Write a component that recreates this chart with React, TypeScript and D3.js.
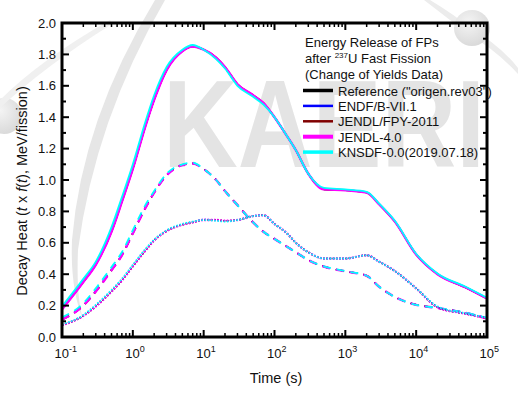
import React from 'react';
import * as d3 from 'd3';

// time grid (s) shared by every curve
const T = [0.1, 0.2, 0.3, 0.5, 0.7, 1, 1.5, 2, 3, 5, 7, 10, 15, 20, 30, 50, 70, 100, 150, 200, 300, 500, 1000, 2000, 3000, 5000, 10000, 20000, 50000, 100000];

// solid curves
const totalRef = [0.176, 0.35, 0.461, 0.671, 0.861, 1.071, 1.341, 1.511, 1.70, 1.82, 1.85, 1.83, 1.78, 1.72, 1.61, 1.54, 1.49, 1.40, 1.28, 1.19, 1.04, 0.94, 0.935, 0.92, 0.845, 0.735, 0.525, 0.40, 0.315, 0.245];
const totalEndf = [0.18, 0.355, 0.465, 0.675, 0.865, 1.075, 1.345, 1.515, 1.705, 1.825, 1.855, 1.83, 1.775, 1.715, 1.605, 1.535, 1.485, 1.40, 1.28, 1.19, 1.04, 0.945, 0.937, 0.922, 0.848, 0.738, 0.528, 0.402, 0.318, 0.247];
const totalJfpy = [0.177, 0.351, 0.461, 0.671, 0.861, 1.071, 1.341, 1.511, 1.70, 1.82, 1.85, 1.83, 1.78, 1.72, 1.61, 1.54, 1.49, 1.40, 1.28, 1.19, 1.04, 0.94, 0.935, 0.92, 0.845, 0.735, 0.525, 0.40, 0.315, 0.245];
const totalJendl4 = [0.175, 0.35, 0.46, 0.67, 0.86, 1.07, 1.34, 1.51, 1.70, 1.82, 1.85, 1.83, 1.78, 1.72, 1.61, 1.54, 1.49, 1.40, 1.28, 1.19, 1.04, 0.94, 0.935, 0.92, 0.845, 0.735, 0.525, 0.40, 0.315, 0.245];
const totalKnsdf = [0.195, 0.37, 0.48, 0.70, 0.89, 1.10, 1.37, 1.54, 1.72, 1.83, 1.86, 1.83, 1.77, 1.71, 1.60, 1.53, 1.48, 1.40, 1.28, 1.19, 1.04, 0.95, 0.94, 0.925, 0.85, 0.74, 0.53, 0.405, 0.32, 0.25];

// dashed curves
const dashRef = [0.11, 0.20, 0.29, 0.425, 0.52, 0.66, 0.82, 0.92, 1.03, 1.095, 1.105, 1.07, 1.00, 0.93, 0.84, 0.73, 0.67, 0.625, 0.575, 0.54, 0.49, 0.448, 0.418, 0.39, 0.32, 0.255, 0.205, 0.185, 0.153, 0.118];
const dashEndf = [0.113, 0.203, 0.295, 0.43, 0.525, 0.665, 0.825, 0.922, 1.033, 1.097, 1.107, 1.07, 1.00, 0.93, 0.84, 0.73, 0.67, 0.625, 0.575, 0.54, 0.49, 0.449, 0.419, 0.39, 0.32, 0.255, 0.205, 0.185, 0.154, 0.119];
const dashJfpy = [0.11, 0.20, 0.29, 0.425, 0.52, 0.66, 0.82, 0.92, 1.03, 1.095, 1.105, 1.07, 1.00, 0.93, 0.84, 0.73, 0.67, 0.625, 0.575, 0.54, 0.49, 0.448, 0.418, 0.39, 0.32, 0.255, 0.205, 0.185, 0.153, 0.118];
const dashJendl4 = [0.11, 0.20, 0.29, 0.425, 0.52, 0.66, 0.82, 0.92, 1.03, 1.095, 1.105, 1.07, 1.00, 0.93, 0.84, 0.73, 0.67, 0.625, 0.575, 0.54, 0.49, 0.448, 0.418, 0.39, 0.32, 0.255, 0.205, 0.185, 0.153, 0.118];
const dashKnsdf = [0.125, 0.215, 0.31, 0.445, 0.54, 0.68, 0.84, 0.93, 1.04, 1.10, 1.11, 1.07, 1.00, 0.93, 0.84, 0.73, 0.67, 0.625, 0.575, 0.54, 0.49, 0.45, 0.42, 0.39, 0.32, 0.255, 0.205, 0.185, 0.155, 0.12];

// dotted curves
const dotRef = [0.075, 0.135, 0.195, 0.29, 0.36, 0.45, 0.55, 0.615, 0.675, 0.715, 0.73, 0.745, 0.745, 0.74, 0.745, 0.77, 0.775, 0.72, 0.66, 0.60, 0.54, 0.50, 0.50, 0.52, 0.48, 0.42, 0.31, 0.19, 0.148, 0.12];
const dotEndf = [0.077, 0.137, 0.2, 0.295, 0.365, 0.455, 0.555, 0.617, 0.677, 0.717, 0.733, 0.748, 0.745, 0.74, 0.745, 0.772, 0.776, 0.72, 0.66, 0.60, 0.54, 0.50, 0.50, 0.522, 0.48, 0.42, 0.31, 0.192, 0.149, 0.122];
const dotJfpy = [0.075, 0.135, 0.195, 0.29, 0.36, 0.45, 0.55, 0.615, 0.675, 0.715, 0.73, 0.745, 0.745, 0.74, 0.745, 0.77, 0.775, 0.72, 0.66, 0.60, 0.54, 0.50, 0.50, 0.52, 0.48, 0.42, 0.31, 0.19, 0.148, 0.12];
const dotJendl4 = [0.075, 0.135, 0.195, 0.29, 0.36, 0.45, 0.55, 0.615, 0.675, 0.715, 0.73, 0.745, 0.745, 0.74, 0.745, 0.77, 0.775, 0.72, 0.66, 0.60, 0.54, 0.50, 0.50, 0.52, 0.48, 0.42, 0.31, 0.19, 0.148, 0.12];
const dotKnsdf = [0.08, 0.14, 0.205, 0.30, 0.37, 0.46, 0.56, 0.62, 0.68, 0.72, 0.735, 0.745, 0.74, 0.735, 0.745, 0.77, 0.775, 0.72, 0.66, 0.60, 0.54, 0.50, 0.50, 0.52, 0.48, 0.42, 0.31, 0.195, 0.15, 0.125];

const libNames = ['Reference ("origen.rev03")', 'ENDF/B-VII.1', 'JENDL/FPY-2011', 'JENDL-4.0', 'KNSDF-0.0(2019.07.18)'];
const libColors = ['#000000', '#0000ff', '#800000', '#ff00ff', '#00ffff'];
const libWidths = [1.5, 1.5, 1.5, 2.4, 1.8];
const legendWidths = [3.5, 2.5, 2.5, 4, 3.5];

const totals = [totalRef, totalEndf, totalJfpy, totalJendl4, totalKnsdf];
const dashes = [dashRef, dashEndf, dashJfpy, dashJendl4, dashKnsdf];
const dots = [dotRef, dotEndf, dotJfpy, dotJendl4, dotKnsdf];

const yTicks = [0, 0.2, 0.4, 0.6, 0.8, 1.0, 1.2, 1.4, 1.6, 1.8, 2.0];
const xDecades = [-1, 0, 1, 2, 3, 4, 5];

const FONT = '"Liberation Sans", Arial, sans-serif';

export default function App() {
  const L = 62, R = 487, TOP = 23, B = 337;
  const x = d3.scaleLog().domain([0.1, 1e5]).range([L, R]);
  const y = d3.scaleLinear().domain([0, 2]).range([B, TOP]);
  const line = d3.line<number>()
    .x((_, i) => x(T[i]))
    .y(d => y(d))
    .curve(d3.curveMonotoneX);

  const minorX: number[] = [];
  for (let d = -1; d < 5; d++) for (let k = 2; k <= 9; k++) minorX.push(k * Math.pow(10, d));
  const minorY = d3.range(1, 20, 2).map(v => v / 10);

  const groups = [
    { data: totals, dash: undefined as string | undefined },
    { data: dashes, dash: '8,6' },
    { data: dots, dash: '1.6,1.6' },
  ];

  return (
    <svg width={518} height={399} style={{ position: 'absolute', left: 0, top: 0, background: '#fff' }} fontFamily={FONT}>
      {/* watermark */}
      <g>
        <defs>
          <radialGradient id="ball" cx="40%" cy="35%" r="70%">
            <stop offset="0%" stopColor="#f4f4f4" />
            <stop offset="100%" stopColor="#d8d8d8" />
          </radialGradient>
        </defs>
        <path d="M430,0 Q455,15 470,28 Q500,45 518,68 L518,74 Q496,50 468,34 Q450,20 424,0 Z" fill="#ececec" />
        <circle cx={472} cy={28} r={18} fill="url(#ball)" />
        <circle cx={4} cy={116} r={18} fill="url(#ball)" />
        <path d="M165,0 Q95,120 78,250 Q76,300 84,322 Q70,290 72,240 Q82,120 155,0 Z" fill="#e6e6e6" />
        <path d="M0,100 Q40,60 110,20 L112,24 Q45,66 0,108 Z" fill="#f0f0f0" />
        <text transform="translate(163,167) scale(0.835,1)" fontSize={124} fontWeight="bold" fill="#e4e4e4">KAERI</text>
      </g>

      {/* curves */}
      {groups.map((g, gi) => (
        <g key={gi}>
          {g.data.map((vals, li) => (
            <path key={li} d={line(vals) || ''} fill="none" stroke={libColors[li]} strokeWidth={libWidths[li]} strokeDasharray={g.dash} />
          ))}
        </g>
      ))}

      {/* frame */}
      <rect x={L} y={TOP} width={R - L} height={B - TOP} fill="none" stroke="#000" strokeWidth={3} />

      {/* y ticks */}
      {yTicks.map(v => (
        <g key={'y' + v}>
          <line x1={L} x2={L + 7} y1={y(v)} y2={y(v)} stroke="#000" strokeWidth={2} />
          <line x1={R} x2={R - 7} y1={y(v)} y2={y(v)} stroke="#000" strokeWidth={2} />
          <text x={56} y={y(v)} dy="0.36em" textAnchor="end" fontSize={13} fill="#111">{v.toFixed(1)}</text>
        </g>
      ))}
      {minorY.map(v => (
        <g key={'ym' + v}>
          <line x1={L} x2={L + 4} y1={y(v)} y2={y(v)} stroke="#000" strokeWidth={2} />
          <line x1={R} x2={R - 4} y1={y(v)} y2={y(v)} stroke="#000" strokeWidth={2} />
        </g>
      ))}

      {/* x ticks */}
      {xDecades.map(e => {
        const px = x(Math.pow(10, e));
        return (
          <g key={'x' + e}>
            <line x1={px} x2={px} y1={B} y2={B - 7} stroke="#000" strokeWidth={2} />
            <line x1={px} x2={px} y1={TOP} y2={TOP + 7} stroke="#000" strokeWidth={2} />
            <text x={px - 7.5} y={358} fontSize={13} fill="#111">10<tspan fontSize={9} dy={-6}>{e}</tspan></text>
          </g>
        );
      })}
      {minorX.map(v => (
        <g key={'xm' + v}>
          <line x1={x(v)} x2={x(v)} y1={B} y2={B - 4} stroke="#000" strokeWidth={1.5} />
          <line x1={x(v)} x2={x(v)} y1={TOP} y2={TOP + 4} stroke="#000" strokeWidth={1.5} />
        </g>
      ))}

      {/* axis titles */}
      <text x={276} y={383} textAnchor="middle" fontSize={14.5} fill="#111">Time (s)</text>
      <text transform="translate(27,191) rotate(-90)" textAnchor="middle" fontSize={14.5} fill="#111">
        Decay Heat (<tspan fontStyle="italic">t</tspan> x <tspan fontStyle="italic">f</tspan>(<tspan fontStyle="italic">t</tspan>), MeV/fission)
      </text>

      {/* legend */}
      <g fontSize={13} fill="#111">
        <text x={305} y={47}>Energy Release of FPs</text>
        <text x={305} y={63}>after <tspan fontSize={8} dy={-5}>237</tspan><tspan dy={5}>U Fast Fission</tspan></text>
        <text x={305} y={79}>(Change of Yields Data)</text>
        {libNames.map((n, i) => (
          <g key={n}>
            <line x1={303} x2={333} y1={90.5 + i * 15.4} y2={90.5 + i * 15.4} stroke={libColors[i]} strokeWidth={legendWidths[i]} />
            <text x={338} y={95.5 + i * 15.4}>{n}</text>
          </g>
        ))}
      </g>
    </svg>
  );
}
